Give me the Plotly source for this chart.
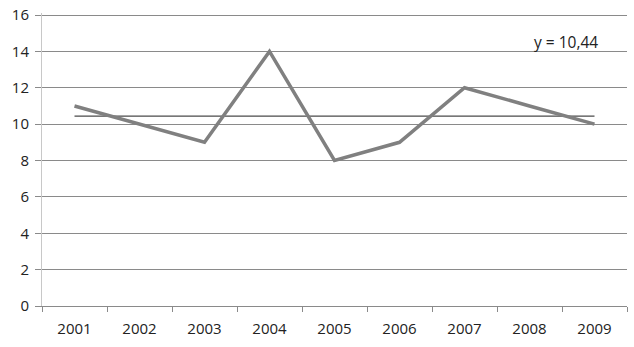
import plotly.graph_objects as go

years = ["2001", "2002", "2003", "2004", "2005", "2006", "2007", "2008", "2009"]
values = [11, 10, 9, 14, 8, 9, 12, 11, 10]
y_ticks = [0, 2, 4, 6, 8, 10, 12, 14, 16]
mean_val = round(sum(values) / len(values), 2)
mean_label = "y = " + f"{mean_val:.2f}".replace(".", ",")

fig = go.Figure()
fig.add_trace(go.Scatter(x=years, y=[mean_val] * len(years), mode="lines",
                         line=dict(color="#4a4a4a", width=1.3), showlegend=False))
fig.add_trace(go.Scatter(x=years, y=values, mode="lines",
                         line=dict(color="#808080", width=3.5), showlegend=False))

fig.add_annotation(x=0.896, y=14.5, xref="paper", yref="y", text=mean_label,
                   showarrow=False, font=dict(size=15.5, color="#222222"),
                   xanchor="center", yanchor="middle")

fig.update_layout(
    width=634, height=347,
    margin=dict(l=42, r=7, t=13, b=41),
    paper_bgcolor="white", plot_bgcolor="white",
    font=dict(family="Open Sans, Liberation Sans, sans-serif", size=14, color="#222222"),
)
fig.update_xaxes(type="category", range=[-0.5, 8.5], showgrid=False, automargin=False,
                 showline=True, linecolor="#8a8a8a", linewidth=1,
                 ticks="outside", tickson="boundaries", ticklen=5, tickcolor="#8a8a8a",
                 ticklabelstandoff=9,
                 tickfont=dict(size=15), fixedrange=True)
fig.update_yaxes(range=[0, 16.11], tickmode="array", tickvals=y_ticks,
                 showgrid=True, gridcolor="#8a8a8a", gridwidth=1,
                 showline=True, linecolor="#c8c8c8", linewidth=1, automargin=False,
                 ticks="outside", ticklen=6, tickcolor="#8a8a8a",
                 ticklabelstandoff=3, ticklabeloverflow="allow",
                 tickfont=dict(size=15), zeroline=False, fixedrange=True)

# remove the browser's default 8px page margin so the figure sits at the top-left corner
fig.write_html("out.html",
               config={"displayModeBar": False, "staticPlot": True},
               post_script="document.body.style.margin='0';document.body.style.overflow='hidden';")
